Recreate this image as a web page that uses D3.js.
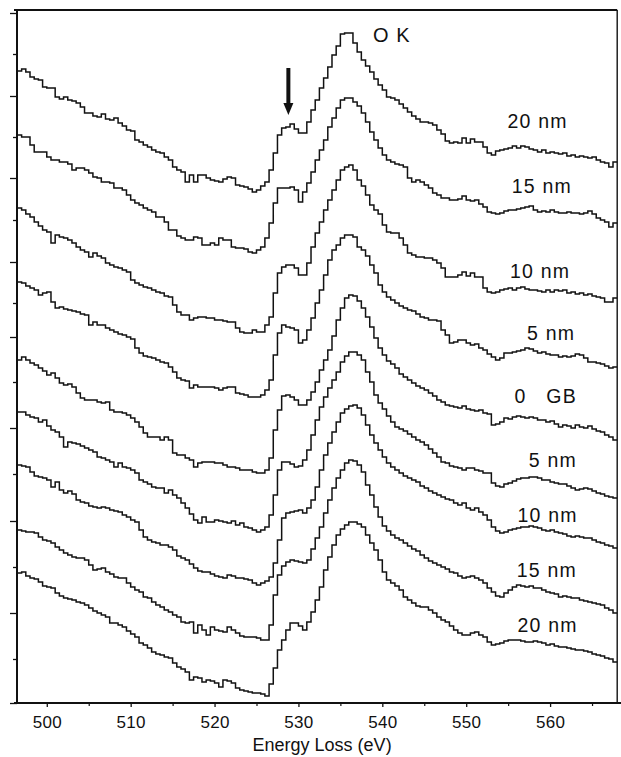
<!DOCTYPE html>
<html>
<head>
<meta charset="utf-8">
<script src="https://cdn.jsdelivr.net/npm/d3@7"></script>
<style>
  html, body { margin: 0; padding: 0; background: #fff; }
  svg { display: block; }
  text { font-family: "Liberation Sans", Arial, Helvetica, sans-serif; fill: #111; }
</style>
</head>
<body>
<svg id="chart" width="621" height="757"></svg>
<script>
// O K-edge EELS spectra taken across a grain boundary (stacked, arbitrary units).
// Channels are 0.5 eV wide, the first one starting at 496.5 eV.
const channelStart = 496.5;
const channelWidth = 0.5;
const energyMin = 496.45;
const energyMax = 568.0;

const xTicks = [500, 510, 520, 530, 540, 550, 560];
const xMinorTicks = [505, 515, 525, 535, 545, 555, 565];

// Intensities (a.u., offsets included), one value per channel
const sideA_20nm = [
  632,634,631,626,624,623,616,615,615,606,
  604,606,603,602,600,596,590,590,587,586,
  589,584,583,585,580,577,573,572,563,561,
  558,556,553,551,550,546,543,536,533,531,
  521,528,521,528,528,525,523,522,521,524,
  526,525,518,517,516,514,511,513,517,521,
  533,550,568,575,576,579,574,570,570,581,
  593,603,615,625,636,648,657,669,670,670,
  660,651,643,637,631,624,618,613,606,605,
  603,599,595,591,587,584,581,581,580,578,
  573,569,562,560,561,560,565,560,564,561,
  561,556,550,548,552,553,554,555,557,555,
  557,556,554,553,551,553,550,551,550,549,
  550,547,548,546,547,546,545,546,543,541,
  540,536,541
];
const sideA_15nm = [
  568,566,566,558,551,551,551,546,543,543,
  541,541,539,533,535,535,533,530,526,525,
  521,521,520,515,515,513,508,503,500,498,
  495,493,491,486,486,481,473,473,467,465,
  463,463,466,465,458,458,460,458,465,463,
  463,456,455,455,454,451,450,453,456,465,
  480,500,515,515,515,516,513,501,511,520,
  531,543,553,563,576,585,595,603,605,605,
  601,597,590,581,571,563,555,548,543,541,
  539,538,536,525,521,523,521,518,515,510,
  508,505,505,503,503,504,507,503,502,503,
  499,496,491,490,489,490,492,493,493,494,
  495,496,497,493,491,492,491,493,491,490,
  490,491,490,490,489,490,492,489,485,483,
  481,476,480
];
const sideA_10nm = [
  495,493,489,486,481,477,473,471,460,468,
  466,465,463,460,456,453,451,446,450,447,
  445,440,438,436,435,433,431,423,420,418,
  416,415,413,411,410,407,406,398,391,388,
  388,383,385,386,386,385,385,383,383,382,
  381,381,375,371,370,370,373,371,371,378,
  386,410,430,436,438,438,435,428,428,440,
  456,470,481,493,503,513,523,533,536,538,
  533,523,517,508,498,493,489,478,471,470,
  470,465,458,450,448,446,446,445,445,443,
  440,435,426,426,426,428,431,427,430,426,
  426,415,411,410,411,413,414,415,413,415,
  416,414,413,413,412,411,413,411,413,412,
  413,410,411,409,410,408,409,407,406,405,
  401,401,405
];
const sideA_5nm = [
  421,420,417,415,413,408,410,411,401,395,
  396,394,393,392,391,389,388,378,381,378,
  378,375,373,371,369,368,366,364,355,350,
  347,346,345,343,341,340,336,331,325,323,
  322,315,318,316,316,316,316,315,313,315,
  316,316,310,309,308,306,306,306,308,313,
  323,348,370,378,376,375,373,360,363,373,
  385,400,413,428,443,453,458,465,468,468,
  466,456,453,447,438,430,418,411,406,403,
  400,397,395,393,392,389,386,385,383,383,
  382,373,368,360,361,363,363,360,358,359,
  355,353,349,346,343,345,350,350,351,352,
  353,355,354,352,350,351,349,348,348,346,
  347,346,347,349,348,345,341,341,340,339,
  337,335,336
];
const boundary_0nm = [
  343,346,343,340,338,335,332,328,330,325,
  320,318,319,316,310,305,303,303,303,301,
  300,301,293,291,291,290,288,285,281,276,
  270,266,266,266,263,266,263,250,248,248,
  245,243,236,240,241,241,241,240,240,238,
  236,236,235,233,233,233,231,230,230,233,
  245,273,293,307,308,306,303,298,298,303,
  311,321,333,343,353,367,383,395,405,408,
  407,402,395,386,376,365,355,348,342,339,
  335,329,326,323,320,317,315,313,310,307,
  303,301,298,297,296,295,297,294,293,292,
  293,290,289,278,279,281,285,284,286,287,
  286,285,286,285,283,283,281,282,279,276,
  278,277,275,278,276,275,277,274,272,271,
  268,266,263
];
const sideB_5nm = [
  291,291,288,286,285,281,283,277,273,271,
  266,256,261,260,259,257,255,253,251,246,
  245,243,241,236,240,236,235,233,230,223,
  221,219,216,215,215,210,213,208,205,200,
  195,189,183,180,186,181,181,183,182,181,
  180,182,178,180,176,175,173,171,173,176,
  188,208,233,241,241,239,236,237,243,253,
  268,283,296,306,315,323,331,341,347,351,
  351,348,343,331,321,308,300,294,287,281,
  276,274,272,269,266,263,261,258,254,250,
  246,241,240,237,236,235,233,235,235,233,
  232,230,230,220,217,216,219,220,222,224,
  225,225,226,226,225,223,223,221,220,219,
  219,217,215,213,214,215,214,212,210,209,
  207,206,205
];
const sideB_10nm = [
  238,237,236,231,227,226,225,223,216,221,
  213,210,212,209,203,201,200,197,196,195,
  196,195,193,192,191,188,186,183,181,173,
  166,163,161,160,158,158,156,153,147,145,
  143,139,135,132,131,131,129,127,126,125,
  128,127,125,125,124,123,120,118,120,122,
  126,140,163,185,190,191,192,193,190,195,
  203,216,233,248,260,271,281,290,294,297,
  298,295,288,278,268,260,253,246,240,236,
  233,230,227,225,223,221,217,215,212,210,
  208,206,204,203,200,198,200,195,193,195,
  191,188,183,176,172,170,171,173,174,175,
  176,176,177,176,175,173,172,173,171,170,
  169,167,166,167,166,165,165,163,161,160,
  158,157,155
];
const sideB_15nm = [
  173,172,171,171,170,166,163,162,160,156,
  153,150,148,146,145,145,143,138,133,134,
  135,131,129,126,125,125,120,116,113,111,
  106,105,101,98,96,93,91,88,86,81,
  80,81,70,78,73,68,76,73,72,71,
  76,73,70,67,66,66,66,65,63,63,
  78,108,128,137,141,143,142,141,140,143,
  154,165,176,190,203,215,225,233,240,243,
  242,238,231,218,208,196,186,177,172,168,
  165,163,160,157,154,152,148,145,142,140,
  138,136,134,131,130,127,125,126,127,125,
  123,120,115,111,107,106,110,113,116,118,
  117,116,117,115,115,113,111,110,109,106,
  107,106,105,105,103,102,101,100,99,98,
  95,93,90
];
const sideB_20nm = [
  130,131,127,125,124,121,117,116,115,110,
  107,105,104,103,101,100,98,95,92,90,
  88,86,80,80,78,76,72,69,66,60,
  58,55,51,49,48,46,45,40,36,34,
  31,23,26,25,21,23,22,20,16,23,
  22,20,15,13,12,11,10,10,9,7,
  19,35,53,63,73,80,80,77,73,81,
  91,103,116,133,146,158,168,174,178,181,
  181,179,176,168,160,153,143,131,123,120,
  117,113,106,103,100,97,96,96,93,90,
  86,83,81,77,73,70,68,68,70,71,
  68,66,61,58,59,60,62,63,63,63,
  62,61,61,62,61,60,58,59,57,56,
  56,55,54,53,53,52,51,49,48,47,
  45,44,41
];

const seriesList = [sideA_20nm, sideA_15nm, sideA_10nm, sideA_5nm, boundary_0nm,
                    sideB_5nm, sideB_10nm, sideB_15nm, sideB_20nm];

// Position labels: text, energy of the label's right end, baseline intensity
const labelTexts = ["20 nm", "15 nm", "10 nm", "5 nm", "0   GB", "5 nm", "10 nm", "15 nm", "20 nm"];
const labelEnergies = [562.1, 562.6, 562.4, 563.0, 563.2, 563.2, 563.3, 563.2, 563.3];
const labelLevels = [575, 510, 425, 363, 300, 236, 181, 126, 71];

// Edge annotation and the pre-peak arrow (energy, intensity)
const edgeLabel = { text: "O K", energy: 538.9, level: 661 };
const arrowMark = { energy: 528.8, from: 635, to: 588 };

// Intensity axis: unlabeled ticks
const yTickValues = [0, 44, 90, 136, 182, 229, 275, 321, 366, 400, 441, 483, 525, 566, 607, 649, 690];
const intensityMax = 690;

// ---- drawing ----
const svg = d3.select("#chart");
const W = 621, H = 757;
const plot = { left: 17, right: 617.2, top: 13, bottom: 703 };

svg.append("rect").attr("width", W).attr("height", H).attr("fill", "#fff");

const x = d3.scaleLinear().domain([energyMin, energyMax]).range([plot.left, plot.right]);
const y = d3.scaleLinear().domain([0, intensityMax]).range([plot.bottom, plot.top]);

const line = d3.line()
  .x(d => x(d.e))
  .y(d => y(d.v))
  .curve(d3.curveStepAfter);

const g = svg.append("g");

seriesList.forEach(vals => {
  const pts = vals.map((v, i) => ({ e: channelStart + i * channelWidth, v }));
  pts.push({ e: energyMax, v: vals[vals.length - 1] });
  g.append("path")
    .datum(pts)
    .attr("d", line)
    .attr("fill", "none")
    .attr("stroke", "#111")
    .attr("stroke-width", 1.5)
    .attr("stroke-linejoin", "miter");
});

// Frame: top and right borders
svg.append("line").attr("x1", 14).attr("x2", plot.right).attr("y1", 10).attr("y2", 10)
  .attr("stroke", "#111").attr("stroke-width", 1.8);
svg.append("line").attr("x1", plot.right).attr("x2", plot.right).attr("y1", 10).attr("y2", plot.bottom)
  .attr("stroke", "#111").attr("stroke-width", 1.4);

// Bottom axis
const xAxis = d3.axisBottom(x).tickValues(xTicks).tickSize(4).tickPadding(9).tickFormat(d3.format("d"));
const gx = svg.append("g").attr("transform", `translate(0,${plot.bottom})`).call(xAxis);
gx.select(".domain").remove();
gx.selectAll(".tick line").attr("stroke", "#111").attr("stroke-width", 1.3);
gx.selectAll(".tick text")
  .attr("font-size", 17).attr("letter-spacing", "0.3px")
  .attr("font-family", "'Liberation Sans', Arial, sans-serif").attr("fill", "#111");
const xMinor = d3.axisBottom(x).tickValues(xMinorTicks).tickSize(3).tickFormat("");
const gxm = svg.append("g").attr("transform", `translate(0,${plot.bottom})`).call(xMinor);
gxm.select(".domain").remove();
gxm.selectAll(".tick line").attr("stroke", "#111").attr("stroke-width", 1.2);
svg.append("line").attr("x1", 14).attr("x2", W).attr("y1", plot.bottom).attr("y2", plot.bottom)
  .attr("stroke", "#111").attr("stroke-width", 2);

// Left axis: alternating long and short ticks
const yAxis = d3.axisLeft(y).tickValues(yTickValues).tickSize(6).tickFormat("");
const gy = svg.append("g").attr("transform", `translate(${plot.left},0)`).call(yAxis);
gy.select(".domain").remove();
gy.selectAll(".tick line")
  .attr("stroke", "#111").attr("stroke-width", 1.3)
  .attr("x2", (d, i) => (i % 2 === 0 ? -7 : -4));
svg.append("line").attr("x1", plot.left).attr("x2", plot.left).attr("y1", 9).attr("y2", plot.bottom + 1)
  .attr("stroke", "#111").attr("stroke-width", 2);

// Axis title
svg.append("text")
  .attr("x", (plot.left + plot.right) / 2 + 5).attr("y", 751)
  .attr("text-anchor", "middle").attr("font-size", 18)
  .text("Energy Loss (eV)");

// Spectrum labels
labelTexts.forEach((t, i) => {
  svg.append("text")
    .attr("x", x(labelEnergies[i])).attr("y", y(labelLevels[i]))
    .attr("text-anchor", "end")
    .attr("font-size", 19.5).attr("letter-spacing", "1.2px")
    .style("white-space", "pre")
    .text(t);
});

// Edge label
svg.append("text")
  .attr("x", x(edgeLabel.energy)).attr("y", y(edgeLabel.level))
  .attr("font-size", 20).attr("letter-spacing", "1px")
  .style("white-space", "pre")
  .text(edgeLabel.text);

// Arrow marking the pre-edge peak
const ax = x(arrowMark.energy);
const headLen = 12, headHalf = 5;
svg.append("line")
  .attr("x1", ax).attr("x2", ax)
  .attr("y1", y(arrowMark.from)).attr("y2", y(arrowMark.to) - headLen + 1)
  .attr("stroke", "#111").attr("stroke-width", 4);
svg.append("path")
  .attr("d", `M${ax - headHalf},${y(arrowMark.to) - headLen} L${ax + headHalf},${y(arrowMark.to) - headLen} L${ax},${y(arrowMark.to)} Z`)
  .attr("fill", "#111");
</script>
</body>
</html>
